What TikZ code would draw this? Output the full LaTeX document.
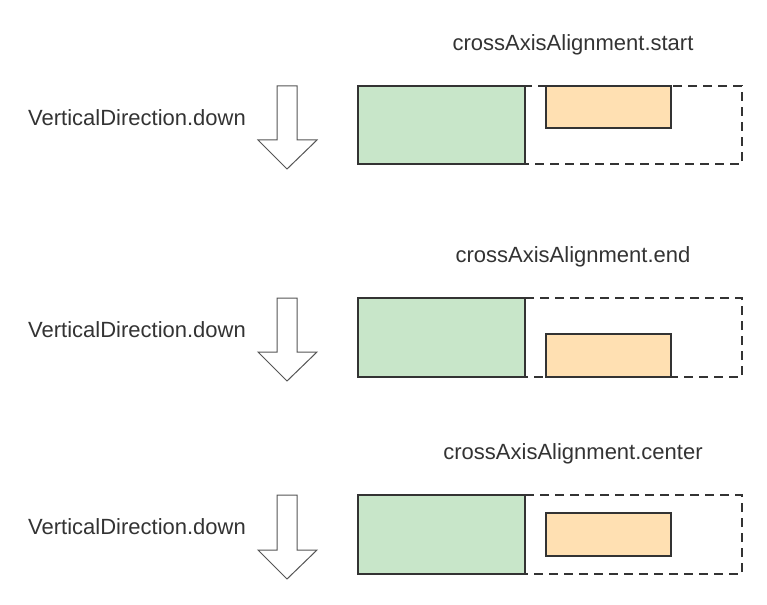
\documentclass[tikz,border=0pt]{standalone}
\usepackage{fontspec}
\setmainfont{Liberation Sans}
\definecolor{boxgreen}{HTML}{C8E6C9}
\definecolor{boxorange}{HTML}{FFE0B2}
\definecolor{edge}{HTML}{333333}
\definecolor{arrowline}{HTML}{555555}
\tikzset{
  lbl/.style={font=\fontsize{22}{26}\selectfont, text=edge, inner sep=0pt},
  container/.style={draw=edge, line width=2.2pt, dash pattern=on 9pt off 6pt},
  bigchild/.style={draw=edge, line width=2.2pt, fill=boxgreen},
  smallchild/.style={draw=edge, line width=2.2pt, fill=boxorange},
  downarrow/.style={draw=arrowline, line width=1pt, fill=white, line join=miter},
}
\begin{document}
\begin{tikzpicture}[x=1pt,y=-1pt]
\useasboundingbox (0,0) rectangle (767,604);
% panel 1
\node[lbl] (t1) at (573,45) {crossAxisAlignment.start};
\node[lbl, anchor=west] (v1) at (28,118) {VerticalDirection.down};
\draw[downarrow] (277,86) -- (297,86) -- (297,140) -- (317,140) -- (287,169) -- (258,140) -- (277,140) -- cycle;
\draw[container] (358,86) rectangle (742,164);
\draw[bigchild] (358,86) rectangle (525,164);
\draw[smallchild] (546,86) rectangle (671,128);
% panel 2
\node[lbl] (t2) at (573,257) {crossAxisAlignment.end};
\node[lbl, anchor=west] (v2) at (28,330) {VerticalDirection.down};
\draw[downarrow] (277,298) -- (297,298) -- (297,352) -- (317,352) -- (287,381) -- (258,352) -- (277,352) -- cycle;
\draw[container] (358,298) rectangle (742,377);
\draw[bigchild] (358,298) rectangle (525,377);
\draw[smallchild] (546,334) rectangle (671,377);
% panel 3
\node[lbl] (t3) at (573,454) {crossAxisAlignment.center};
\node[lbl, anchor=west] (v3) at (28,527) {VerticalDirection.down};
\draw[downarrow] (277,495) -- (297,495) -- (297,550) -- (317,550) -- (287,579) -- (258,550) -- (277,550) -- cycle;
\draw[container] (358,495) rectangle (742,574);
\draw[bigchild] (358,495) rectangle (525,574);
\draw[smallchild] (546,513) rectangle (671,556);
\end{tikzpicture}
\end{document}
